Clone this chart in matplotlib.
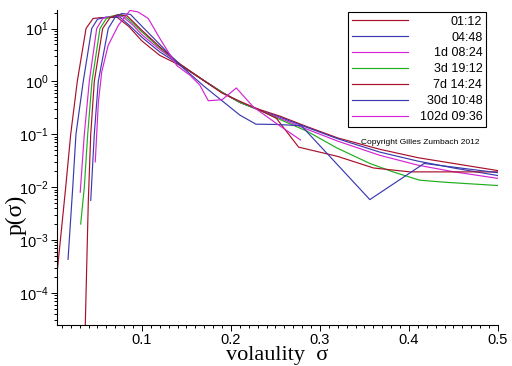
import matplotlib
matplotlib.use("Agg")
import matplotlib.pyplot as plt
from matplotlib.ticker import MultipleLocator, LogLocator, NullFormatter
from matplotlib.transforms import Affine2D

plt.rcParams["font.family"] = ["Liberation Sans", "DejaVu Sans"]
plt.rcParams["mathtext.default"] = "regular"

# series, one per time horizon
labels = ["01:12", "04:48", "1d 08:24", "3d 19:12", "7d 14:24", "30d 10:48", "102d 09:36"]
colors = ["#a8102a", "#3a3ab0", "#d424d4", "#1eae1e", "#a8102a", "#3a3ab0", "#d424d4"]

sig_01 = [0.0045, 0.0143, 0.0199, 0.0273, 0.0371, 0.045, 0.053, 0.072, 0.085, 0.100,
          0.120, 0.143, 0.169, 0.190, 0.210, 0.233, 0.255, 0.285, 0.320, 0.367, 0.410, 0.450, 0.500]
p_01 = [2.3e-4, 0.010, 0.10, 1.0, 10.0, 15.5, 16.0, 16.3, 11.0, 5.8,
        3.1, 2.0, 1.05, 0.62, 0.40, 0.29, 0.22, 0.14, 0.085, 0.052, 0.036, 0.028, 0.0205]

sig_02 = [0.0169, 0.0222, 0.0258, 0.034, 0.0435, 0.050, 0.060, 0.075, 0.087, 0.100,
          0.120, 0.143, 0.169, 0.190, 0.210, 0.233, 0.255, 0.285, 0.320, 0.367, 0.410, 0.450, 0.500]
p_02 = [4.3e-4, 0.010, 0.10, 1.0, 10.0, 15.0, 16.5, 16.5, 11.0, 6.8,
        3.6, 2.05, 1.05, 0.62, 0.40, 0.28, 0.21, 0.135, 0.082, 0.046, 0.031, 0.023, 0.0165]

sig_03 = [0.0306, 0.0352, 0.0408, 0.0491, 0.056, 0.066, 0.078, 0.090, 0.100,
          0.120, 0.143, 0.169, 0.190, 0.210, 0.233, 0.255, 0.285, 0.320, 0.367, 0.410, 0.450, 0.500]
p_03 = [0.008, 0.10, 1.0, 10.0, 15.5, 17.1, 17.0, 11.5, 7.6,
        4.0, 2.1, 1.05, 0.62, 0.40, 0.28, 0.20, 0.125, 0.074, 0.040, 0.026, 0.0195, 0.0146]

sig_04 = [0.0311, 0.0352, 0.039, 0.0438, 0.0528, 0.060, 0.070, 0.080, 0.090, 0.100,
          0.120, 0.143, 0.169, 0.190, 0.210, 0.233, 0.255, 0.285, 0.319, 0.356, 0.382, 0.412, 0.442, 0.500]
p_04 = [2.0e-3, 0.010, 0.10, 1.0, 10.0, 15.5, 17.8, 17.5, 12.5, 8.6,
        4.3, 2.1, 1.05, 0.62, 0.40, 0.28, 0.19, 0.115, 0.055, 0.028, 0.0194, 0.0135, 0.0123, 0.0107]

sig_05 = [0.0357, 0.0397, 0.0424, 0.0464, 0.0558, 0.064, 0.0734, 0.083, 0.092, 0.100,
          0.120, 0.143, 0.169, 0.190, 0.210, 0.230, 0.251, 0.276, 0.320, 0.360, 0.401, 0.450, 0.500]
p_05 = [1e-5, 0.0056, 0.10, 1.0, 10.0, 16.0, 18.4, 17.5, 12.5, 9.2,
        4.5, 2.1, 1.05, 0.60, 0.42, 0.30, 0.20, 0.057, 0.038, 0.023, 0.0194, 0.0194, 0.0194]

sig_06 = [0.0424, 0.0464, 0.0509, 0.0621, 0.070, 0.0772, 0.087, 0.100,
          0.120, 0.143, 0.170, 0.210, 0.228, 0.251, 0.279, 0.356, 0.417, 0.500]
p_06 = [0.0056, 0.10, 1.0, 10.0, 16.5, 19.2, 18.5, 11.0,
        5.0, 2.0, 0.80, 0.23, 0.155, 0.153, 0.145, 0.0058, 0.028, 0.0187]

sig_07 = [0.0475, 0.0491, 0.051, 0.0536, 0.0547, 0.062, 0.0716, 0.0734, 0.0865, 0.0955, 0.107,
          0.120, 0.139, 0.154, 0.165, 0.1745, 0.190, 0.206, 0.225, 0.251, 0.278]
p_07 = [0.03, 0.10, 0.41, 1.0, 1.5, 4.8, 10.0, 11.5, 22.0, 20.6, 15.5,
        6.5, 2.0, 1.3, 0.85, 0.43, 0.45, 0.75, 0.33, 0.16, 0.078]

sigmas = [sig_01, sig_02, sig_03, sig_04, sig_05, sig_06, sig_07]
probs = [p_01, p_02, p_03, p_04, p_05, p_06, p_07]

fig = plt.figure(figsize=(5.12, 3.66), dpi=100)
ax = fig.add_axes([57 / 512, 41 / 366, 441 / 512, 315 / 366])

for s, p, c, lab in zip(sigmas, probs, colors, labels):
    ax.plot(s, p, color=c, lw=0.85, label=lab)

ax.set_yscale("log")
ax.set_xlim(0.0045, 0.5)
ax.set_ylim(2.46e-5, 22.4)

ax.xaxis.set_major_locator(MultipleLocator(0.1))
ax.xaxis.set_minor_locator(MultipleLocator(0.01))
ax.yaxis.set_major_locator(LogLocator(base=10, numticks=10))
ax.yaxis.set_minor_locator(LogLocator(base=10, subs=range(2, 10), numticks=10))
ax.yaxis.set_minor_formatter(NullFormatter())

for side in ["top", "right"]:
    ax.spines[side].set_visible(False)
for side in ["left", "bottom"]:
    ax.spines[side].set_linewidth(0.8)

ax.tick_params(which="major", direction="out", length=4.3, width=0.7, labelsize=10.5, pad=1.5)
ax.tick_params(which="minor", direction="out", length=2.5, width=0.7)

ax.set_xlabel("volaulity  σ", family="Liberation Serif", fontsize=16, labelpad=-1)
ax.set_ylabel("p(σ)", family="Liberation Serif", fontsize=17)
ax.yaxis.set_label_coords(-0.07, 0.35)

leg = ax.legend(loc="upper right", bbox_to_anchor=(486 / 512, 1 - 12 / 366),
                bbox_transform=fig.transFigure, borderaxespad=0, fontsize=9,
                handlelength=4.5, handletextpad=0.9, labelspacing=0.31,
                borderpad=0.3, fancybox=False, framealpha=1, edgecolor="black")
leg.get_frame().set_linewidth(0.8)

fig.text(420 / 512, 1 - 143 / 366, "Copyright Gilles Zumbach 2012", fontsize=6,
         ha="center", va="center")

# right-align the legend labels like the original
fig.canvas.draw()
r = fig.canvas.get_renderer()
texts = leg.get_texts()
widths = [t.get_window_extent(r).width for t in texts]
wmax = max(widths)
for t, w in zip(texts, widths):
    t.set_transform(t.get_transform() + Affine2D().translate(wmax - w, 0))

fig.savefig("out.png", dpi=100)
